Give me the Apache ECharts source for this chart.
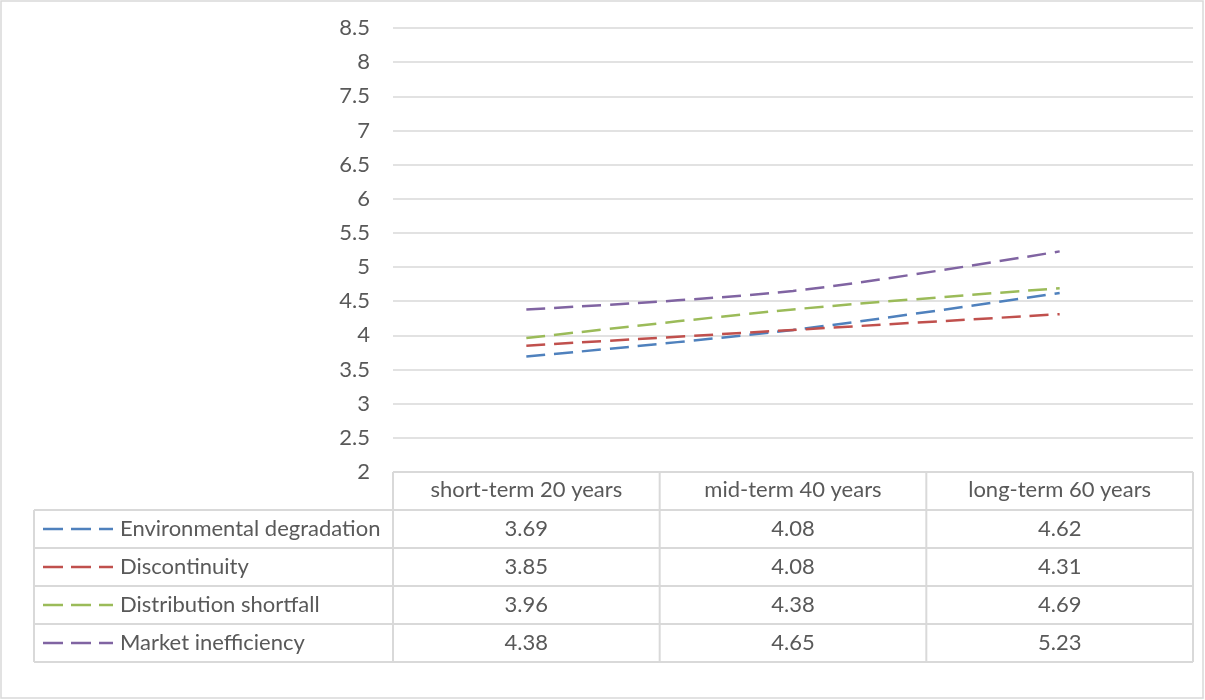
<!DOCTYPE html>
<html>
<head>
<meta charset="utf-8">
<script src="https://cdn.jsdelivr.net/npm/echarts@6/dist/echarts.min.js"></script>
<style>
html,body{margin:0;padding:0;background:#fff;}
#c{width:1205px;height:700px;}
</style>
</head>
<body>
<div id="c"></div>
<script>
const categories = ['short-term 20 years', 'mid-term 40 years', 'long-term 60 years'];
const seriesNames = ['Environmental degradation', 'Discontinuity', 'Distribution shortfall', 'Market inefficiency'];
const environmentalDegradation = [3.69, 4.08, 4.62];
const discontinuity = [3.85, 4.08, 4.31];
const distributionShortfall = [3.96, 4.38, 4.69];
const marketInefficiency = [4.38, 4.65, 5.23];
const seriesValues = [environmentalDegradation, discontinuity, distributionShortfall, marketInefficiency];
const colors = ['#4F81BD', '#C0504D', '#9BBB59', '#8064A2'];
const yMin = 2, yMax = 8.5, yStep = 0.5;

const FONT = 'Lato';
const TEXT = '#595959';
const BORDER = '#d9d9d9';
const FS = 22;

const chart = echarts.init(document.getElementById('c'), null, {renderer: 'canvas'});
const option = {
  animation: false,
  backgroundColor: '#fff',
  textStyle: {fontFamily: FONT},
  grid: {left: 393, right: 12, top: 28, bottom: 228, containLabel: false},
  xAxis: {
    type: 'category',
    data: categories,
    boundaryGap: true,
    axisLine: {show: false},
    axisTick: {show: false},
    splitLine: {show: false},
    axisLabel: {show: true, margin: 7, color: TEXT, fontSize: FS, fontFamily: FONT, interval: 0}
  },
  yAxis: {
    type: 'value',
    min: yMin, max: yMax, interval: yStep,
    axisLine: {show: false},
    axisTick: {show: false},
    axisLabel: {color: TEXT, fontSize: FS, fontFamily: FONT, margin: 23},
    splitLine: {lineStyle: {color: BORDER, width: 1.5}}
  },
  series: seriesNames.map((n, i) => ({
    name: n,
    type: 'line',
    data: seriesValues[i],
    smooth: 0.3,
    showSymbol: false,
    symbol: 'none',
    lineStyle: {color: colors[i], width: 2.5, type: [19, 9], cap: 'butt'},
    itemStyle: {color: colors[i]},
    z: 3
  }))
};
chart.setOption(option);

// Build the data table below the plot from the axis scales
const centers = categories.map(c => chart.convertToPixel({xAxisIndex: 0}, c));
const band = centers[1] - centers[0];
const colEdges = [centers[0] - band / 2].concat(centers.map(c => c + band / 2));
const tableTop = chart.convertToPixel({yAxisIndex: 0}, yMin);
const rowH = 38;
const legendLeft = 34;
const nRows = seriesNames.length;
const tableBottom = tableTop + rowH * (nRows + 1);
const g = [];
const ls = {stroke: BORDER, lineWidth: 2};
// outer chart border
g.push({type: 'rect', shape: {x: 1, y: 1, width: 1202, height: 697}, style: {fill: null, stroke: BORDER, lineWidth: 1.5}, silent: true});
// header row top border
g.push({type: 'line', shape: {x1: colEdges[0], y1: tableTop, x2: colEdges[3], y2: tableTop}, style: ls});
// horizontal lines for rows
for (let r = 1; r <= nRows + 1; r++) {
  const y = tableTop + rowH * r;
  g.push({type: 'line', shape: {x1: legendLeft, y1: y, x2: colEdges[3], y2: y}, style: ls});
}
// vertical lines
g.push({type: 'line', shape: {x1: legendLeft, y1: tableTop + rowH, x2: legendLeft, y2: tableBottom}, style: ls});
colEdges.forEach(x => g.push({type: 'line', shape: {x1: x, y1: tableTop, x2: x, y2: tableBottom}, style: ls}));
// rows
seriesNames.forEach((n, i) => {
  const cy = tableTop + rowH * (i + 1) + rowH / 2;
  g.push({type: 'line', shape: {x1: 43, y1: cy, x2: 113, y2: cy}, style: {stroke: colors[i], lineWidth: 2.5, lineDash: [20, 8], lineCap: 'butt'}});
  g.push({type: 'text', x: 120, y: cy, style: {text: n, fill: TEXT, font: FS + 'px ' + FONT, textAlign: 'left', textVerticalAlign: 'middle'}});
  seriesValues[i].forEach((v, j) => {
    g.push({type: 'text', x: centers[j], y: cy, style: {text: v.toFixed(2), fill: TEXT, font: FS + 'px ' + FONT, textAlign: 'center', textVerticalAlign: 'middle'}});
  });
});
chart.setOption({graphic: {elements: g}});
</script>
</body>
</html>
